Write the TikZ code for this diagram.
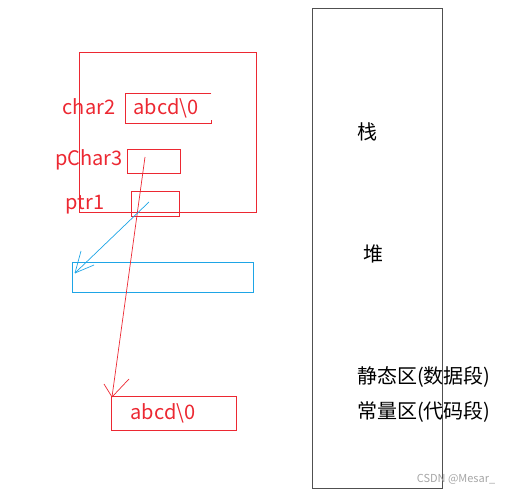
\documentclass[tikz,border=0pt]{standalone}
\usepackage{fontspec}
\setmainfont{Noto Sans CJK SC}
\definecolor{myred}{RGB}{236,40,50}
\definecolor{myblue}{RGB}{30,165,230}
\definecolor{mygray}{RGB}{80,80,80}
\begin{document}
\begin{tikzpicture}[x=1pt,y=-1pt,
  box/.style={inner sep=0pt, anchor=north west},
  redbox/.style={box, draw=myred, line width=0.8pt},
  bluebox/.style={box, draw=myblue, line width=0.8pt},
  graybox/.style={box, draw=mygray, line width=0.8pt},
  lbl/.style={inner sep=0pt, text=myred, font=\fontsize{20}{22}\selectfont},
  zh/.style={inner sep=0pt, text=black, font=\fontsize{20}{22}\selectfont},
  redarrow/.style={draw=myred, line width=0.7pt},
  bluearrow/.style={draw=myblue, line width=0.7pt}]
\useasboundingbox (0,0) rectangle (512,494);
% memory column
\node[graybox, minimum width=130pt, minimum height=480pt] (mem) at (312,8) {};
\node[zh] (stack) at (367,132) {栈};
\node[zh] (heap) at (373,254) {堆};
\node[zh, anchor=west] (static) at (357,377) {静态区(数据段)};
\node[zh, anchor=west] (const) at (357,412) {常量区(代码段)};
\node[inner sep=0pt, text=gray!70, font=\fontsize{11}{13}\selectfont] (wm) at (456,479) {CSDN @Mesar\_};
% stack frame
\node[redbox, minimum width=177pt, minimum height=160pt] (frame) at (79,52) {};
\node[lbl] (l1) at (89,107) {char2};
\node[lbl] (l2) at (89,160) {pChar3};
\node[lbl] (l3) at (85,205) {ptr1};
\node[box, minimum width=86pt, minimum height=30pt] (c2) at (125,93) {};
\draw[draw=myred, line width=0.8pt] (c2.north east) -- (c2.north west) -- (c2.south west) -- (c2.south east) -- ++(0,-3);
\node[lbl] (c2t) at (166,108) {abcd\textbackslash 0};
\node[redbox, minimum width=53pt, minimum height=24pt] (p3) at (127,149) {};
\node[redbox, minimum width=48pt, minimum height=25pt] (p1) at (131,191) {};
% heap block
\node[bluebox, minimum width=181pt, minimum height=30pt] (hb) at (72,262) {};
% constant string
\node[redbox, minimum width=125pt, minimum height=34pt] (cs) at (111,396) {};
\node[lbl] (cst) at (163,413) {abcd\textbackslash 0};
% arrows
\coordinate (rs) at (145,157);
\coordinate (rt) at (112,397);
\draw[redarrow] (rs) -- (rt);
\draw[redarrow] (rt) -- ++(-8,-13);
\draw[redarrow] (rt) -- ++(17,-18);
\coordinate (bs) at (149,202);
\coordinate (bt) at (75,273);
\draw[bluearrow] (bs) -- (bt);
\draw[bluearrow] (bt) -- ++(6,-22);
\draw[bluearrow] (bt) -- ++(19,-8);
\end{tikzpicture}
\end{document}
